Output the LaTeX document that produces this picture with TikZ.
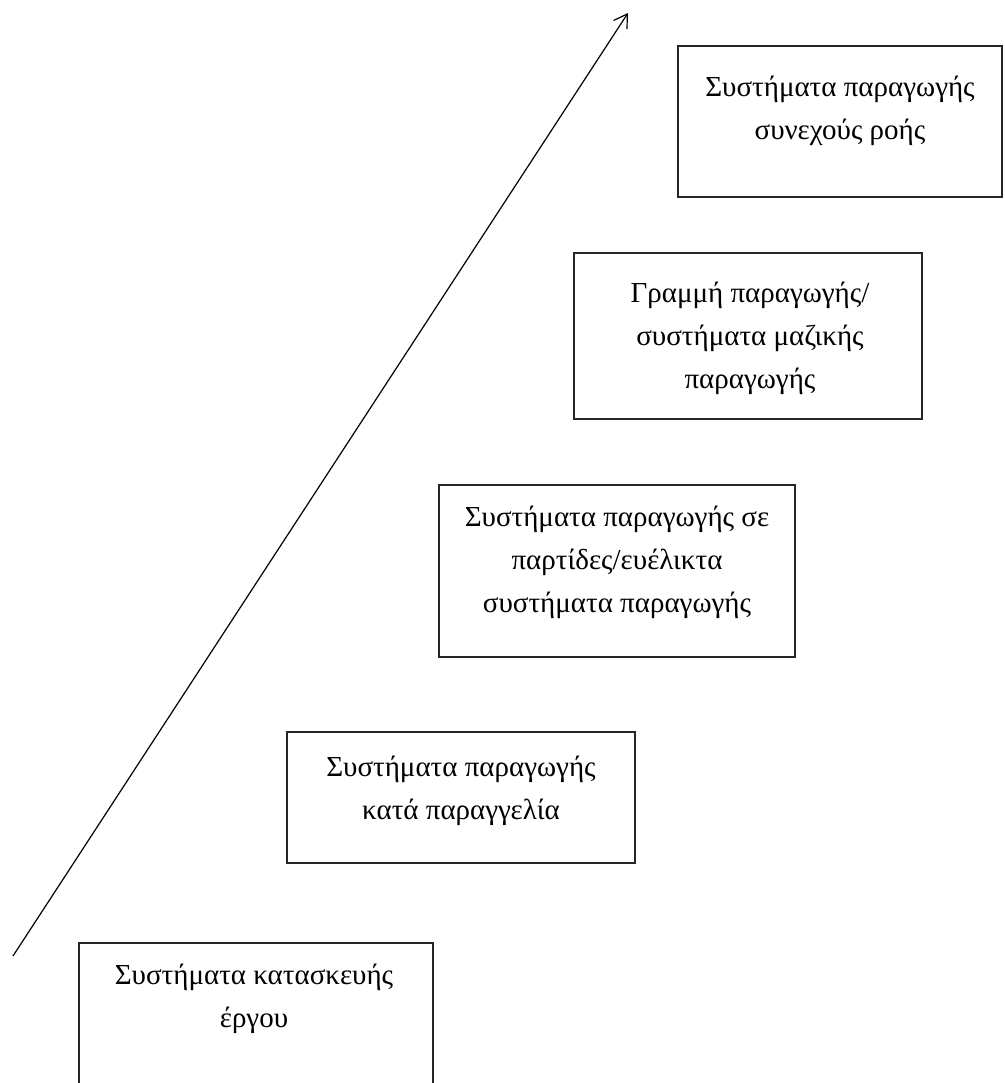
\documentclass[tikz,border=0pt]{standalone}
\usepackage{fontspec}
\setmainfont{Liberation Serif}
\usetikzlibrary{arrows.meta}
\begin{document}
\begin{tikzpicture}[x=1pt,y=-1pt,
  box/.style={draw=black!85, line width=1.8pt, rectangle, inner sep=0pt},
  boxtext/.style={anchor=north, inner sep=0pt, align=center,
    font=\fontsize{29}{43}\selectfont},
  growth/.style={line width=1.2pt, -{Straight Barb[length=13pt,width=16pt,line width=1.2pt]}}]
\useasboundingbox (0,0) rectangle (1004,1083);
\clip (0,0) rectangle (1004,1083);
% boxes
\node[box, minimum width=324pt, minimum height=151pt] (b1) at (840,121.5) {};
\node[box, minimum width=348pt, minimum height=166pt] (b2) at (748,336) {};
\node[box, minimum width=356pt, minimum height=172pt] (b3) at (617,571) {};
\node[box, minimum width=348pt, minimum height=131pt] (b4) at (461,797.5) {};
\node[box, minimum width=354pt, minimum height=190pt] (b5) at (256,1038) {};
% texts
\node[boxtext] (t1) at (840,76) {Συστήματα παραγωγής\\συνεχούς ροής};
\node[boxtext] (t2) at (750,282) {Γραμμή παραγωγής/\\συστήματα μαζικής\\παραγωγής};
\node[boxtext] (t3) at (617,506) {Συστήματα παραγωγής σε\\παρτίδες/ευέλικτα\\συστήματα παραγωγής};
\node[boxtext] (t4) at (461,756) {Συστήματα παραγωγής\\κατά παραγγελία};
\node[boxtext] (t5) at (254,964) {Συστήματα κατασκευής\\έργου};
% arrow
\coordinate (a0) at (13,956);
\coordinate (a1) at (628,13);
\draw[growth] (a0) -- (a1);
\end{tikzpicture}
\end{document}
